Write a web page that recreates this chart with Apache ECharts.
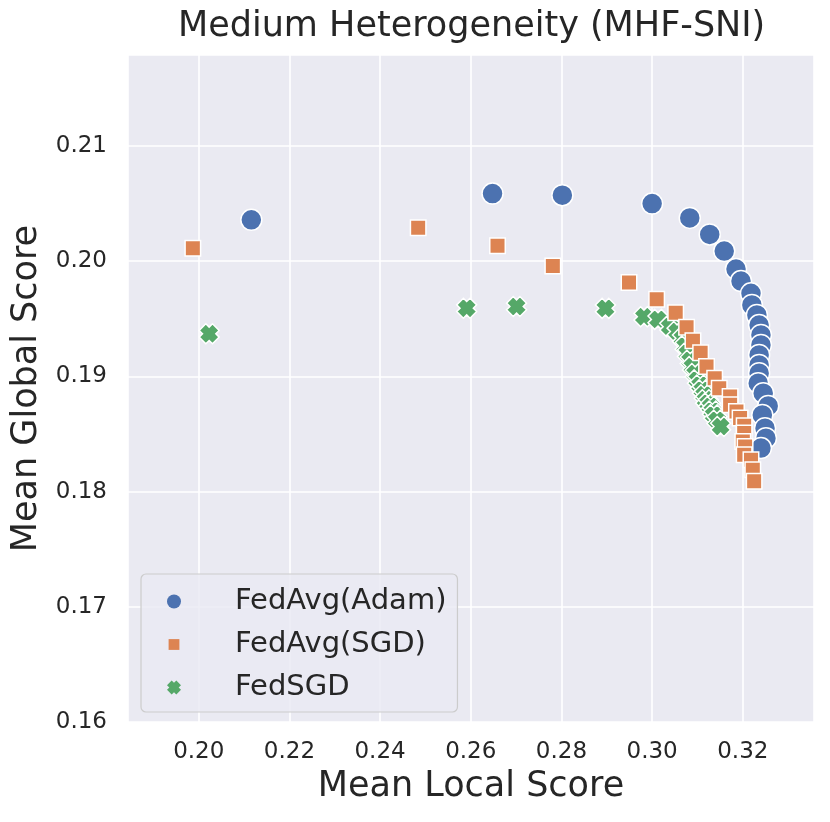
<!DOCTYPE html>
<html>
<head>
<meta charset="utf-8">
<script src="https://cdn.jsdelivr.net/npm/echarts@6/dist/echarts.min.js"></script>
<style>
html,body{margin:0;padding:0;background:#fff;}
#chart{width:830px;height:822px;}
</style>
</head>
<body>
<div id="chart"></div>
<script>
var titleText = 'Medium Heterogeneity (MHF-SNI)';
var xName = 'Mean Local Score';
var yName = 'Mean Global Score';
var seriesNames = ['FedAvg(Adam)', 'FedAvg(SGD)', 'FedSGD'];

var adamX = [0.2116, 0.2648, 0.2802, 0.3000, 0.3083, 0.3127, 0.3159, 0.3185, 0.3196, 0.3218, 0.3220, 0.3231, 0.3236, 0.3240, 0.3240, 0.3236, 0.3236, 0.3236, 0.3234, 0.3245, 0.3256, 0.3243, 0.3249, 0.3251, 0.3240];
var adamY = [0.20359, 0.20587, 0.20573, 0.20500, 0.20376, 0.20232, 0.20088, 0.19932, 0.19828, 0.19721, 0.19620, 0.19533, 0.19446, 0.19360, 0.19273, 0.19186, 0.19100, 0.19028, 0.18941, 0.18854, 0.18744, 0.18666, 0.18551, 0.18464, 0.18378];

var sgdX = [0.1987, 0.2484, 0.2659, 0.2781, 0.2949, 0.3010, 0.3052, 0.3076, 0.3090, 0.3107, 0.3120, 0.3138, 0.3148, 0.3172, 0.3172, 0.3186, 0.3194, 0.3203, 0.3203, 0.3200, 0.3205, 0.3203, 0.3218, 0.3222, 0.3225];
var sgdY = [0.20113, 0.20290, 0.20134, 0.19958, 0.19816, 0.19669, 0.19553, 0.19426, 0.19310, 0.19206, 0.19085, 0.18984, 0.18898, 0.18825, 0.18753, 0.18695, 0.18638, 0.18571, 0.18508, 0.18435, 0.18392, 0.18320, 0.18276, 0.18190, 0.18089];

var fedsgdX = [0.2023, 0.2591, 0.2701, 0.2897, 0.2982, 0.3013, 0.3039, 0.3055, 0.3067, 0.3073, 0.3078, 0.3084, 0.3089, 0.3095, 0.3100, 0.3106, 0.3111, 0.3115, 0.3118, 0.3124, 0.3129, 0.3133, 0.3136, 0.3143, 0.3151];
var fedsgdY = [0.19370, 0.19592, 0.19607, 0.19591, 0.19518, 0.19495, 0.19432, 0.19390, 0.19331, 0.19265, 0.19201, 0.19140, 0.19085, 0.19025, 0.18970, 0.18925, 0.18883, 0.18840, 0.18797, 0.18768, 0.18739, 0.18700, 0.18666, 0.18620, 0.18565];

function pairs(xs, ys) { return xs.map(function (x, i) { return [x, ys[i]]; }); }

var crossPath = 'path://M33.3,0L0,33.3L16.7,50L0,66.7L33.3,100L50,83.3L66.7,100L100,66.7L83.3,50L100,33.3L66.7,0L50,16.7Z';
var smallSquare = 'path://M0,0M14,14M1.6,1.6L12.4,1.6L12.4,12.4L1.6,12.4Z';
var textColor = '#262626';
var font = 'DejaVu Sans';

function tickFmt(step) {
  return function (v) {
    var k = Math.round(v / step);
    if (Math.abs(v - k * step) > step * 0.01) return '';
    return (k * step).toFixed(2);
  };
}

var chart = echarts.init(document.getElementById('chart'), null, {renderer: 'canvas'});
chart.setOption({
  animation: false,
  backgroundColor: '#ffffff',
  textStyle: {fontFamily: font},
  title: {
    text: titleText,
    left: 178, top: 9, padding: 0,
    textStyle: {fontFamily: font, fontSize: 35, fontWeight: 'normal', color: textColor}
  },
  grid: {
    left: 128, right: 16, top: 55, bottom: 100,
    show: true, backgroundColor: '#EAEAF2', borderWidth: 0
  },
  xAxis: {
    type: 'value',
    min: 0.1844, max: 0.3357, splitNumber: 7,
    name: xName, nameLocation: 'middle', nameGap: 47,
    nameTextStyle: {fontFamily: font, fontSize: 35, color: textColor},
    axisLine: {show: false}, axisTick: {show: false},
    axisLabel: {fontFamily: font, fontSize: 23, color: textColor, margin: 19, formatter: tickFmt(0.02)},
    splitLine: {show: true, lineStyle: {color: '#ffffff', width: 1.6}}
  },
  yAxis: {
    type: 'value',
    min: 0.16, max: 0.2179, splitNumber: 6,
    name: yName, nameLocation: 'middle', nameGap: 82,
    nameTextStyle: {fontFamily: font, fontSize: 35, color: textColor},
    axisLine: {show: false}, axisTick: {show: false},
    axisLabel: {fontFamily: font, fontSize: 23, color: textColor, margin: 21, formatter: tickFmt(0.01)},
    splitLine: {show: true, lineStyle: {color: '#ffffff', width: 1.6}}
  },
  legend: {
    orient: 'vertical',
    left: 141, top: 574,
    padding: [13, 11, 10, 26],
    itemWidth: 28, itemHeight: 14, itemGap: 14,
    backgroundColor: 'rgba(234,234,242,0.8)',
    borderColor: '#cccccc', borderWidth: 1.2, borderRadius: 5,
    itemStyle: {borderWidth: 0},
    textStyle: {fontFamily: font, fontSize: 29, color: textColor, lineHeight: 29, padding: [0, 0, 0, 42]},
    data: [
      {name: seriesNames[0], icon: 'circle'},
      {name: seriesNames[1], icon: smallSquare},
      {name: seriesNames[2], icon: crossPath}
    ]
  },
  series: [
    {
      name: seriesNames[0], type: 'scatter', z: 2,
      symbol: 'circle', symbolSize: 21,
      itemStyle: {color: '#4C72B0', borderColor: '#ffffff', borderWidth: 1.5, opacity: 1},
      data: pairs(adamX, adamY)
    },
    {
      name: seriesNames[1], type: 'scatter', z: 4,
      symbol: 'rect', symbolSize: 15.5,
      itemStyle: {color: '#DD8452', borderColor: '#ffffff', borderWidth: 1.5, opacity: 1},
      data: pairs(sgdX, sgdY)
    },
    {
      name: seriesNames[2], type: 'scatter', z: 3,
      symbol: crossPath, symbolSize: 20,
      itemStyle: {color: '#55A868', borderColor: '#ffffff', borderWidth: 1.5, opacity: 1},
      data: pairs(fedsgdX, fedsgdY)
    }
  ]
});
</script>
</body>
</html>
